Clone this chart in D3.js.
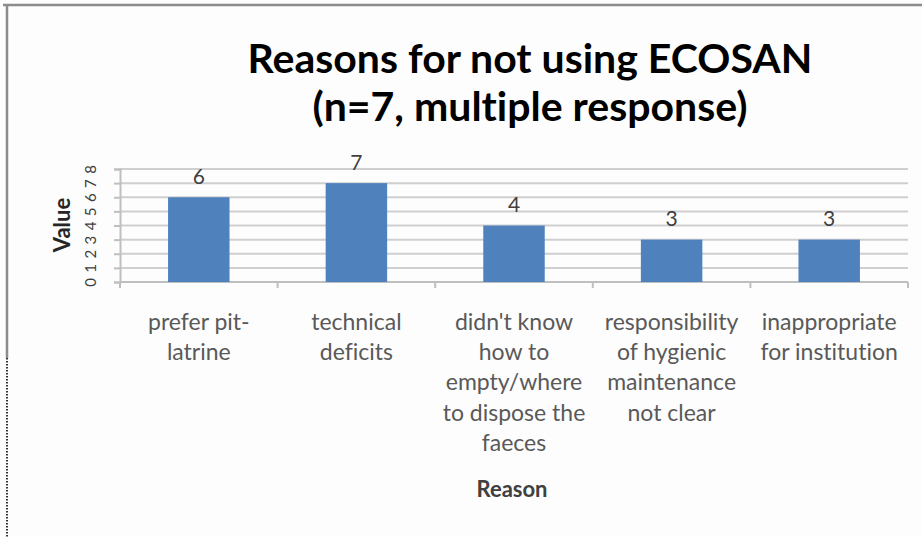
<!DOCTYPE html>
<html>
<head>
<meta charset="utf-8">
<script src="https://cdn.jsdelivr.net/npm/d3@7/dist/d3.min.js"></script>
<style>
  html, body { margin: 0; padding: 0; background: #fdfdfd; }
  svg { display: block; }
  text { font-family: Lato, "Open Sans", sans-serif; font-variant-ligatures: none; }
</style>
</head>
<body>
<svg id="chart" width="922" height="537"></svg>
<script>
// Reasons for not using ECOSAN (multiple response)
const categories = [
  ["prefer pit-", "latrine"],
  ["technical", "deficits"],
  ["didn't know", "how to", "empty/where", "to dispose the", "faeces"],
  ["responsibility", "of hygienic", "maintenance", "not clear"],
  ["inappropriate", "for institution"]
];
const values = [6, 7, 4, 3, 3];
const yTicks = [0, 1, 2, 3, 4, 5, 6, 7, 8];
const titleLines = ["Reasons for not using ECOSAN", "(n=7, multiple response)"];
const yTitle = "Value";
const xTitle = "Reason";

const svg = d3.select("#chart");
const W = 922, H = 537;
const plot = { left: 120, right: 908, top: 169, bottom: 282 };

// frame: solid top and left edge, dotted lower part of the left edge
svg.append("rect").attr("x", 0).attr("y", 0).attr("width", W).attr("height", H).attr("fill", "#fdfdfd");
svg.append("line").attr("x1", 3).attr("x2", W).attr("y1", 5).attr("y2", 5)
  .attr("stroke", "#8c8c8c").attr("stroke-width", 2.5);
svg.append("line").attr("x1", 7).attr("x2", 7).attr("y1", 4).attr("y2", 358)
  .attr("stroke", "#8c8c8c").attr("stroke-width", 2.5);
svg.append("line").attr("x1", 7).attr("x2", 7).attr("y1", 358).attr("y2", H)
  .attr("stroke", "#333").attr("stroke-width", 2).attr("stroke-dasharray", "1.5,1.5");

const keys = categories.map((c, i) => i);
const x = d3.scaleBand().domain(keys).range([plot.left, plot.right])
  .paddingInner(0.61).paddingOuter(0.305);
const xCat = d3.scaleBand().domain(keys).range([plot.left, plot.right]);
const y = d3.scaleLinear().domain([0, 8]).range([plot.bottom, plot.top]);

// horizontal gridlines
svg.append("g").selectAll("line").data(yTicks.slice(1)).join("line")
  .attr("x1", plot.left).attr("x2", plot.right)
  .attr("y1", d => y(d)).attr("y2", d => y(d))
  .attr("stroke", "#cfcfcf").attr("stroke-width", 2);

// y axis with rotated tick labels
const yAxis = svg.append("g").attr("transform", `translate(${plot.left},0)`)
  .call(d3.axisLeft(y).tickValues(yTicks).tickSize(6).tickFormat(d3.format("d")));
yAxis.select(".domain").attr("stroke", "#bfbfbf").attr("stroke-width", 2);
yAxis.selectAll(".tick line").attr("stroke", "#bfbfbf").attr("stroke-width", 2);
yAxis.selectAll(".tick text")
  .attr("x", null).attr("dy", null)
  .attr("transform", "translate(-30,0) rotate(-90)")
  .attr("text-anchor", "middle").attr("dominant-baseline", "central")
  .attr("fill", "#404040").style("font-size", "15px");

// x axis baseline with category boundary ticks
const xAxisG = svg.append("g");
xAxisG.append("line").attr("x1", plot.left).attr("x2", plot.right)
  .attr("y1", plot.bottom).attr("y2", plot.bottom)
  .attr("stroke", "#bfbfbf").attr("stroke-width", 2);
const bounds = keys.map(k => xCat(k)).concat([plot.right]);
xAxisG.selectAll("line.tick").data(bounds).join("line").attr("class", "tick")
  .attr("x1", d => d).attr("x2", d => d)
  .attr("y1", plot.bottom).attr("y2", plot.bottom + 6)
  .attr("stroke", "#bfbfbf").attr("stroke-width", 2);

// bars
svg.append("g").selectAll("rect").data(values).join("rect")
  .attr("x", (d, i) => x(i)).attr("width", x.bandwidth())
  .attr("y", d => y(d)).attr("height", d => y(0) - y(d))
  .attr("fill", "#4f81bd");

// value labels
svg.append("g").selectAll("text").data(values).join("text")
  .attr("x", (d, i) => x(i) + x.bandwidth() / 2)
  .attr("y", d => y(d) - 22)
  .attr("text-anchor", "middle").attr("dominant-baseline", "central")
  .attr("fill", "#404040").style("font-size", "21px")
  .text(d => d);

// category labels, wrapped onto several lines
const catG = svg.append("g");
categories.forEach((lines, i) => {
  const cx = xCat(i) + xCat.bandwidth() / 2;
  const t = catG.append("text")
    .attr("x", cx).attr("y", 330)
    .attr("text-anchor", "middle")
    .attr("fill", "#595959").style("font-size", "23px");
  lines.forEach((ln, j) => {
    t.append("tspan").attr("x", cx).attr("dy", j === 0 ? 0 : 30.2).text(ln);
  });
});

// axis titles
svg.append("text").attr("transform", "translate(61,225) rotate(-90)")
  .attr("text-anchor", "middle").attr("dominant-baseline", "central")
  .attr("fill", "#262626").style("font-size", "22px").style("font-weight", "bold")
  .text(yTitle);
svg.append("text").attr("x", 512).attr("y", 497)
  .attr("text-anchor", "middle")
  .attr("fill", "#404040").style("font-size", "22px").style("font-weight", "bold")
  .text(xTitle);

// chart title
svg.append("g").selectAll("text").data(titleLines).join("text")
  .attr("x", 530).attr("y", (d, i) => 73 + i * 48)
  .attr("text-anchor", "middle")
  .attr("fill", "#000").style("font-size", "41px").style("font-weight", "bold")
  .text(d => d);
</script>
</body>
</html>
